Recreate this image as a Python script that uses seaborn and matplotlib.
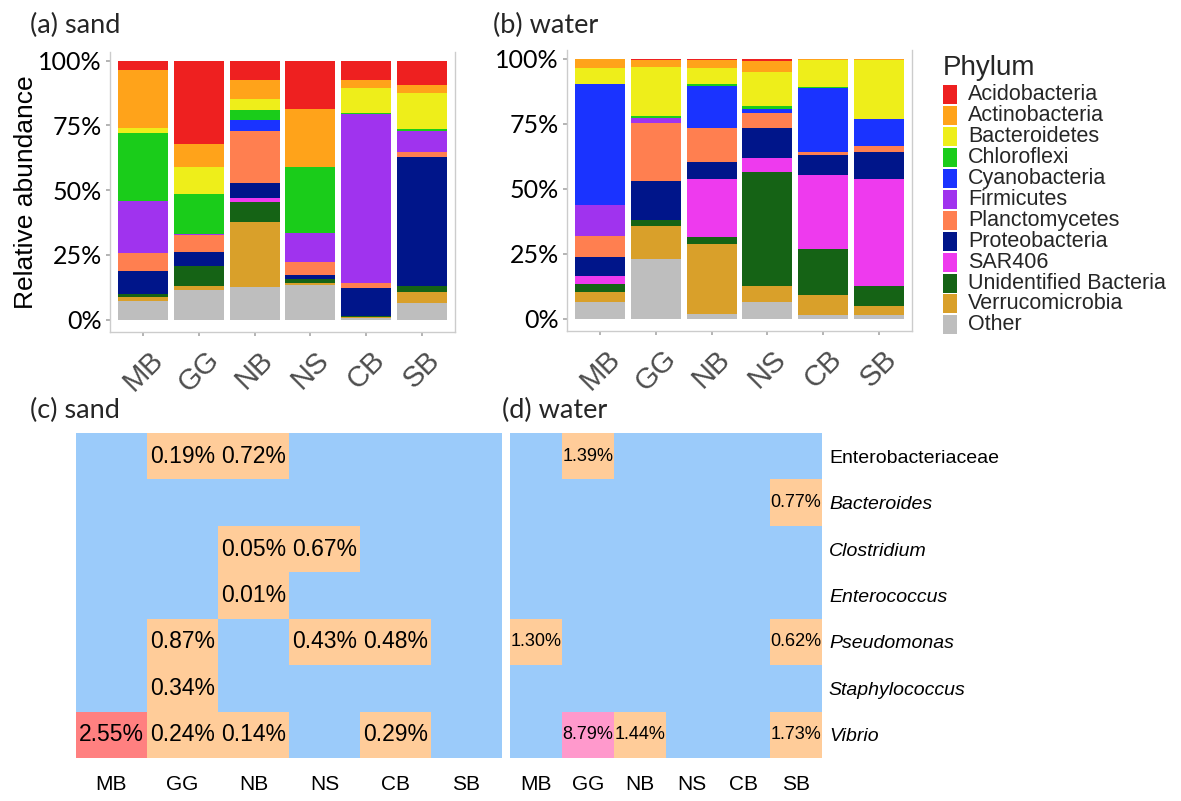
import numpy as np
import pandas as pd
import matplotlib
matplotlib.use("Agg")
import matplotlib.pyplot as plt
from matplotlib import font_manager
from matplotlib.colors import ListedColormap
from matplotlib.patches import Rectangle
import seaborn as sns

sns.set_theme(style="white")
plt.rcParams['font.family'] = ['Liberation Sans', 'DejaVu Sans']

avail = {f.name for f in font_manager.fontManager.ttflist}
HAS_NARROW = 'Liberation Sans Narrow' in avail
narrow = ['Liberation Sans Narrow', 'Liberation Sans'] if HAS_NARROW else ['Liberation Sans']
title_font = ['Lato', 'Liberation Sans']

# --- Data ---
sites = ["MB", "GG", "NB", "NS", "CB", "SB"]
phyla = ["Acidobacteria", "Actinobacteria", "Bacteroidetes", "Chloroflexi",
         "Cyanobacteria", "Firmicutes", "Planctomycetes", "Proteobacteria",
         "SAR406", "Unidentified Bacteria", "Verrucomicrobia", "Other"]
phylum_colors = ["#EE2020", "#FFA31A", "#EEEE1A", "#1ACC1A", "#1A33FF", "#A033EE",
                 "#FF7F50", "#00158A", "#EE3AEE", "#156315", "#D9A02A", "#BEBEBE"]

# relative abundance (%), same order as phyla
sand_mb = [3.7, 22.3, 2.1, 26.3, 0, 20.1, 6.7, 8.9, 0, 1.4, 1.5, 7.1]
sand_gg = [31.9, 9.1, 10.3, 15.4, 0, 0.4, 6.7, 5.5, 0, 7.5, 1.5, 11.6]
sand_nb = [7.5, 7.2, 4.4, 3.7, 4.2, 0, 20.1, 5.8, 1.5, 8.0, 25.0, 12.6]
sand_ns = [18.5, 22.5, 0, 25.5, 0, 11.3, 5.0, 1.4, 0, 1.7, 0.5, 13.5]
sand_cb = [7.3, 3.1, 9.5, 0.6, 0, 65.3, 1.7, 10.9, 0, 0.5, 0.3, 0.6]
sand_sb = [9.5, 3.0, 13.8, 1.0, 0, 8.0, 1.9, 49.7, 0, 2.6, 4.1, 6.4]

water_mb = [0, 3.7, 5.9, 0, 46.7, 12.1, 7.8, 7.6, 2.8, 3.0, 4.2, 6.2]
water_gg = [0.5, 2.4, 19.0, 0.8, 0, 1.9, 22.2, 15.3, 0, 2.3, 12.5, 23.0]
water_nb = [0.6, 3.0, 6.2, 0.8, 16.3, 0, 13.0, 6.4, 22.4, 2.6, 26.9, 1.9]
water_ns = [0.6, 4.2, 13.0, 1.3, 1.4, 0, 5.9, 11.4, 5.5, 43.8, 6.3, 6.4]
water_cb = [0, 0.5, 10.5, 0.3, 24.8, 0, 0.9, 7.7, 28.7, 17.5, 8.0, 1.2]
water_sb = [0, 0.4, 22.6, 0, 10.4, 0, 2.6, 10.4, 40.9, 8.0, 3.3, 1.4]

# indicator taxa (% of reads), columns = sites
genera = ["Enterobacteriaceae", "Bacteroides", "Clostridium", "Enterococcus",
          "Pseudomonas", "Staphylococcus", "Vibrio"]
sand_entero = [0, 0.19, 0.72, 0, 0, 0]
sand_bacteroides = [0, 0, 0, 0, 0, 0]
sand_clostridium = [0, 0, 0.05, 0.67, 0, 0]
sand_enterococcus = [0, 0, 0.01, 0, 0, 0]
sand_pseudomonas = [0, 0.87, 0, 0.43, 0.48, 0]
sand_staph = [0, 0.34, 0, 0, 0, 0]
sand_vibrio = [2.55, 0.24, 0.14, 0, 0.29, 0]

water_entero = [0, 1.39, 0, 0, 0, 0]
water_bacteroides = [0, 0, 0, 0, 0, 0.77]
water_clostridium = [0, 0, 0, 0, 0, 0]
water_enterococcus = [0, 0, 0, 0, 0, 0]
water_pseudomonas = [1.30, 0, 0, 0, 0, 0.62]
water_staph = [0, 0, 0, 0, 0, 0]
water_vibrio = [0, 8.79, 1.44, 0, 0, 1.73]

heat_colors = ["#9BCBFA", "#FFCC99", "#FF8080", "#FF99CC"]
heat_bins = [0.001, 2, 5]


def long_table(cols):
    rows = []
    for site, vals in zip(sites, cols):
        for ph, v in zip(phyla, vals):
            rows.append((site, ph, v))
    return pd.DataFrame(rows, columns=["site", "phylum", "pct"])


df_sand = long_table([sand_mb, sand_gg, sand_nb, sand_ns, sand_cb, sand_sb])
df_water = long_table([water_mb, water_gg, water_nb, water_ns, water_cb, water_sb])

sand_heat = pd.DataFrame([sand_entero, sand_bacteroides, sand_clostridium, sand_enterococcus,
                          sand_pseudomonas, sand_staph, sand_vibrio], index=genera, columns=sites)
water_heat = pd.DataFrame([water_entero, water_bacteroides, water_clostridium, water_enterococcus,
                           water_pseudomonas, water_staph, water_vibrio], index=genera, columns=sites)

# --- Figure layout (pixel boxes) ---
W, H = 1181, 801
fig = plt.figure(figsize=(W / 100, H / 100), dpi=100)


def box(x0, y0, x1, y1):
    return [x0 / W, 1 - y1 / H, (x1 - x0) / W, (y1 - y0) / H]


ax_a = fig.add_axes(box(110, 52, 455, 332))
ax_b = fig.add_axes(box(567, 50, 912, 331))
ax_c = fig.add_axes(box(76, 433, 502, 758))
ax_d = fig.add_axes(box(510, 433, 822, 758))
ax_leg = fig.add_axes(box(930, 40, 1181, 340))

# --- Stacked bars ---
for ax, df in [(ax_a, df_sand), (ax_b, df_water)]:
    sns.histplot(data=df, x="site", weights="pct", hue="phylum", hue_order=phyla,
                 palette=phylum_colors, multiple="stack", discrete=True, shrink=0.9,
                 linewidth=0, alpha=1, legend=False, ax=ax)
    ax.set_ylim(-4.8, 103.4)
    ax.set_xlim(-0.6, 5.6)
    ax.set_yticks([0, 25, 50, 75, 100])
    ax.set_yticklabels(["0%", "25%", "50%", "75%", "100%"], fontsize=18, color="black",
                       family=title_font)
    ax.set_xlabel("")
    ax.set_ylabel("")
    ax.tick_params(axis="x", labelrotation=45, labelsize=21, labelcolor="#4D4D4D",
                   length=3, color="#AAAAAA", pad=7, bottom=True)
    ax.tick_params(axis="y", length=3, color="#AAAAAA", left=True, pad=3)
    for side in ["left", "right", "bottom"]:
        ax.spines[side].set_color("#CCCCCC")
        ax.spines[side].set_linewidth(1)
    ax.spines["top"].set_visible(False)
    ax.grid(False)

ax_a.set_ylabel("Relative abundance", fontsize=19, color="black")
ax_a.yaxis.set_label_coords(-0.21, 0.5)

# --- Legend ---
ax_leg.set_xlim(930, 1181)
ax_leg.set_ylim(340, 40)
ax_leg.axis("off")
ax_leg.text(943, 68, "Phylum", fontsize=20, va="center", ha="left")
for i, (ph, col) in enumerate(zip(phyla, phylum_colors)):
    yc = 95 + 20.9 * i
    ax_leg.add_patch(Rectangle((943, yc - 9.5), 14, 19, facecolor=col, edgecolor="none"))
    ax_leg.text(968, yc, ph, fontsize=15.5, va="center", ha="left")

# --- Heatmaps ---
cmap = ListedColormap(heat_colors)
for ax, tab, right in [(ax_c, sand_heat, False), (ax_d, water_heat, True)]:
    codes = pd.DataFrame(np.digitize(tab.values, heat_bins), index=tab.index, columns=tab.columns)
    labels = tab.map(lambda v: f"{v:.2f}%" if v > 0 else "")
    if right:
        akw = {"color": "black", "fontsize": 16 if HAS_NARROW else 13, "family": narrow}
    else:
        akw = {"color": "black", "fontsize": 16.5}
    sns.heatmap(codes, ax=ax, cmap=cmap, vmin=-0.5, vmax=3.5, cbar=False,
                annot=labels, fmt="", annot_kws=akw,
                xticklabels=sites, yticklabels=genera if right else False)
    ax.tick_params(axis="x", length=0, pad=12, labelrotation=0)
    for t in ax.get_xticklabels():
        t.set_family(narrow)
        t.set_fontsize(17 if HAS_NARROW else 15)
        t.set_color("black")

ax_d.yaxis.tick_right()
ax_d.tick_params(axis="y", length=0, pad=5, labelrotation=0)
for i, t in enumerate(ax_d.get_yticklabels()):
    t.set_family(narrow)
    t.set_fontsize(16.5 if HAS_NARROW else 14)
    t.set_color("black")
    if i > 0:
        t.set_style("italic")

# --- Panel titles ---
for x, y, s in [(30, 25, "(a) sand"), (493, 25, "(b) water"),
                (30, 410, "(c) sand"), (502, 410, "(d) water")]:
    fig.text(x / W, 1 - y / H, s, fontsize=19.5, va="center", ha="left", family=title_font)

fig.savefig("out.png", dpi=100)
